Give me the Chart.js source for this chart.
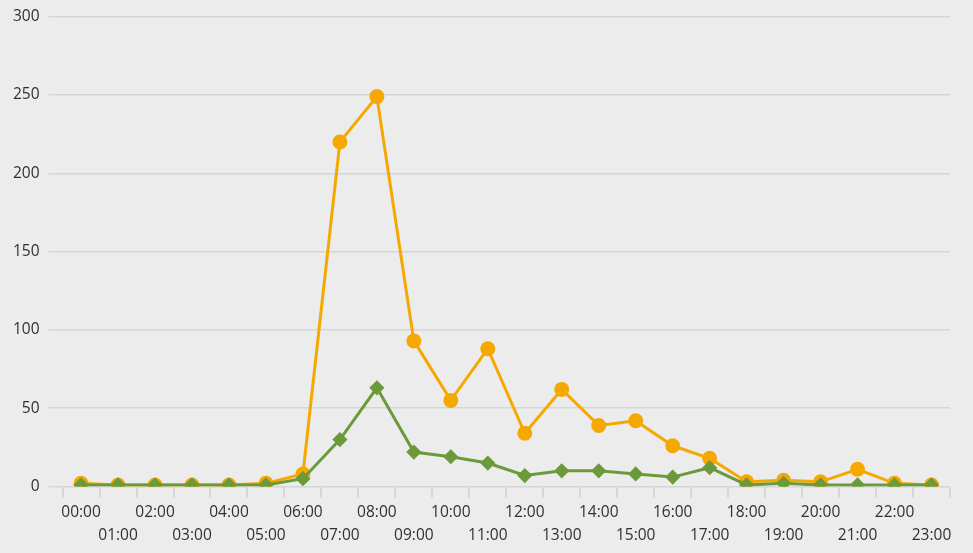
<!DOCTYPE html>
<html>
<head>
<meta charset="utf-8">
<script src="https://cdn.jsdelivr.net/npm/chart.js@4"></script>
<style>
  html, body { margin: 0; padding: 0; background: #ececec; }
  #wrap { width: 973px; height: 553px; position: relative; }
</style>
</head>
<body>
<div id="wrap"><canvas id="c" width="973" height="553"></canvas></div>
<script>
const hours = ['00:00','01:00','02:00','03:00','04:00','05:00','06:00','07:00','08:00','09:00','10:00','11:00',
               '12:00','13:00','14:00','15:00','16:00','17:00','18:00','19:00','20:00','21:00','22:00','23:00'];
const orangeValues = [2, 1, 1, 1, 1, 2, 8, 220, 249, 93, 55, 88, 34, 62, 39, 42, 26, 18, 3, 4, 3, 11, 2, 1];
const greenValues  = [1, 1, 1, 1, 1, 1, 5, 30, 63, 22, 19, 15, 7, 10, 10, 8, 6, 12, 1, 2, 1, 1, 1, 1];
const yTicks = [0, 50, 100, 150, 200, 250, 300];

const ORANGE = '#f5a800';
const GREEN = '#6b9a3b';
const GRID = '#d6d6d6';
const TEXT = '#303030';
const FONT = "'Open Sans', 'Noto Sans', sans-serif";

new Chart(document.getElementById('c'), {
  type: 'line',
  data: {
    labels: hours,
    datasets: [
      {
        data: greenValues,
        borderColor: GREEN,
        backgroundColor: GREEN,
        borderWidth: 3,
        pointStyle: 'rectRot',
        pointRadius: 5.5,
        pointHoverRadius: 5.5,
        tension: 0
      },
      {
        data: orangeValues,
        borderColor: ORANGE,
        backgroundColor: ORANGE,
        borderWidth: 3,
        pointStyle: 'circle',
        pointRadius: 6,
        pointHoverRadius: 6,
        tension: 0
      }
    ]
  },
  options: {
    responsive: false,
    animation: false,
    layout: { padding: { left: 4, right: 23, top: 16, bottom: 3 } },
    plugins: { legend: { display: false }, tooltip: { enabled: false } },
    scales: {
      x: {
        type: 'category',
        offset: true,
        border: { display: false },
        grid: {
          offset: true,
          drawOnChartArea: false,
          drawTicks: true,
          tickLength: 11,
          color: GRID,
          lineWidth: 2
        },
        ticks: {
          autoSkip: false,
          maxRotation: 0,
          minRotation: 0,
          padding: 3,
          color: TEXT,
          font: { family: FONT, size: 15.5, lineHeight: 1.5 },
          callback: function(v, i) {
            const l = hours[i];
            return i % 2 === 0 ? l : ['', l];
          }
        }
      },
      y: {
        min: 0,
        max: 300,
        afterBuildTicks: function(s) { s.ticks = yTicks.map(v => ({ value: v })); },
        border: { display: false },
        grid: {
          color: GRID,
          lineWidth: 1.5,
          drawTicks: true,
          tickLength: 14
        },
        ticks: {
          padding: 9,
          color: TEXT,
          font: { family: FONT, size: 15.5, lineHeight: 1.0 }
        }
      }
    }
  }
});
</script>
</body>
</html>
